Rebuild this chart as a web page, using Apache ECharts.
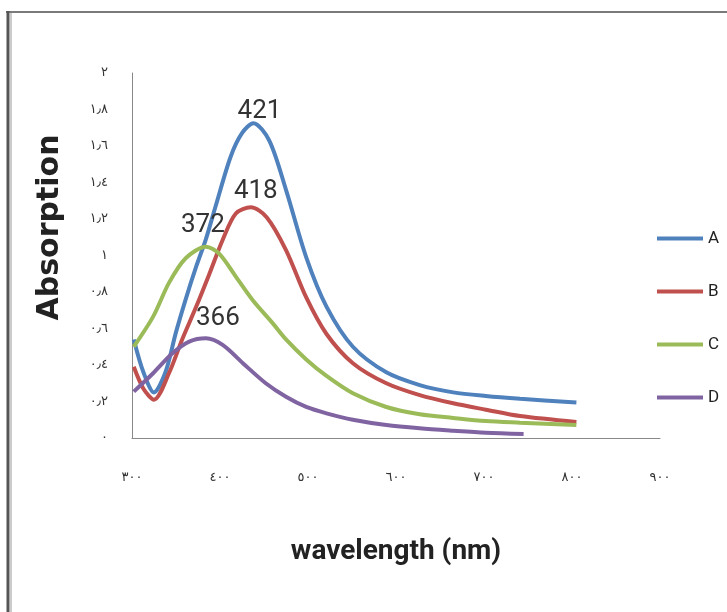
<!DOCTYPE html>
<html><head><meta charset="utf-8">
<script src="https://cdn.jsdelivr.net/npm/echarts/dist/echarts.min.js"></script>
<style>html,body{margin:0;padding:0;background:#fff}#c{width:727px;height:612px}</style>
</head><body><div id="c"></div>
<script>
// Series names
const seriesNames = ['A', 'B', 'C', 'D'];
// A (blue)
const aX = [302, 313, 325, 338, 350, 361, 373, 384, 395, 412, 425, 438, 456, 475, 498, 521, 551, 589, 627, 665, 702, 741, 805];
const aY = [0.54, 0.36, 0.25, 0.36, 0.58, 0.76, 0.94, 1.09, 1.27, 1.54, 1.67, 1.725, 1.63, 1.36, 0.99, 0.72, 0.50, 0.36, 0.29, 0.25, 0.23, 0.215, 0.195];
// B (red)
const bX = [302, 313, 325, 342, 357, 373, 388, 403, 418, 435, 453, 475, 498, 521, 551, 589, 627, 665, 702, 741, 805];
const bY = [0.39, 0.27, 0.21, 0.355, 0.54, 0.72, 0.90, 1.085, 1.23, 1.264, 1.21, 1.03, 0.77, 0.57, 0.41, 0.30, 0.235, 0.19, 0.155, 0.12, 0.088];
// C (green)
const cX = [302, 324, 342, 361, 384, 399, 418, 437, 460, 475, 498, 521, 551, 589, 627, 665, 702, 741, 805];
const cY = [0.50, 0.665, 0.85, 0.985, 1.048, 1.01, 0.884, 0.756, 0.628, 0.54, 0.43, 0.34, 0.245, 0.17, 0.13, 0.11, 0.093, 0.084, 0.071];
// D (purple)
const dX = [302, 324, 346, 365, 384, 403, 426, 452, 475, 498, 521, 551, 589, 627, 665, 702, 745];
const dY = [0.254, 0.355, 0.464, 0.528, 0.546, 0.51, 0.41, 0.30, 0.226, 0.17, 0.135, 0.10, 0.071, 0.053, 0.04, 0.029, 0.022];
// Peak annotations (text) and the x of the point they mark
const peakLabels = ['421', '418', '372', '366'];
const peakAtX = [438, 435, 384, 384];
// Tick labels (Arabic-Indic digits)
const xTickLabels = ['٣٠٠', '٤٠٠', '٥٠٠', '٦٠٠', '٧٠٠', '٨٠٠', '٩٠٠'];
const yTickLabels = ['٠', '٠٫٢', '٠٫٤', '٠٫٦', '٠٫٨', '١', '١٫٢', '١٫٤', '١٫٦', '١٫٨', '٢'];

const colors = ['#4F81BD', '#C0504D', '#9BBB59', '#8064A2'];
const labelOffsets = [[6, -12], [5, -16], [-3, -21], [12, -20]];
const xs = [aX, bX, cX, dX], ys = [aY, bY, cY, dY];

const series = seriesNames.map((name, i) => ({
  name, type: 'line', smooth: 0.3,
  symbol: 'circle', symbolSize: 0, showSymbol: true,
  lineStyle: { width: 4, color: colors[i] },
  itemStyle: { color: colors[i] },
  emphasis: { disabled: true },
  data: xs[i].map((x, k) => {
    const item = { value: [x, ys[i][k]] };
    if (x === peakAtX[i]) {
      item.label = {
        show: true, position: 'inside', offset: labelOffsets[i],
        formatter: peakLabels[i], fontSize: 26,
        fontFamily: 'Roboto, "Open Sans", sans-serif',
        color: '#333'
      };
    }
    return item;
  })
}));

const chart = echarts.init(document.getElementById('c'), null, { renderer: 'canvas' });
chart.setOption({
  animation: false,
  backgroundColor: '#fff',
  grid: { left: 132, right: 67, top: 73, bottom: 174 },
  xAxis: {
    type: 'value', min: 300, max: 900, interval: 100,
    name: 'wavelength (nm)', nameLocation: 'middle', nameGap: 100,
    nameTextStyle: { fontSize: 28, fontWeight: 'bold', color: '#222',
      fontFamily: 'Roboto, "Open Sans", sans-serif' },
    axisLine: { show: true, lineStyle: { color: '#888', width: 1 } },
    axisTick: { show: false },
    splitLine: { show: false },
    axisLabel: { margin: 33, fontSize: 13, color: '#333', fontFamily: 'DejaVu Sans',
      formatter: v => xTickLabels[Math.round((v - 300) / 100)] }
  },
  yAxis: {
    type: 'value', min: 0, max: 2, interval: 0.2,
    name: 'Absorption', nameLocation: 'middle', nameGap: 67,
    nameTextStyle: { fontSize: 30, fontWeight: 'bold', color: '#222', fontFamily: 'DejaVu Sans',
      padding: [0, 0, 0, 56] },
    axisLine: { show: true, lineStyle: { color: '#888', width: 1 } },
    axisTick: { show: false },
    splitLine: { show: false },
    axisLabel: { margin: 24, fontSize: 13, color: '#333', fontFamily: 'DejaVu Sans',
      formatter: v => yTickLabels[Math.round(v / 0.2)] }
  },
  legend: {
    orient: 'vertical', left: 652, top: 225,
    itemWidth: 46, itemHeight: 4, itemGap: 36, icon: 'rect',
    textStyle: { fontSize: 17, color: '#222',
      fontFamily: 'Roboto, "Open Sans", sans-serif' },
    data: seriesNames
  },
  graphic: [
    { type: 'line', shape: { x1: 6, y1: 12, x2: 727, y2: 12 }, style: { stroke: '#7a7a7a', lineWidth: 2 }, silent: true },
    { type: 'line', shape: { x1: 8, y1: 11, x2: 8, y2: 612 }, style: { stroke: '#555', lineWidth: 3 }, silent: true },
    { type: 'line', shape: { x1: 11, y1: 13, x2: 11, y2: 612 }, style: { stroke: '#ccc', lineWidth: 2 }, silent: true }
  ],
  series
});
</script></body></html>
